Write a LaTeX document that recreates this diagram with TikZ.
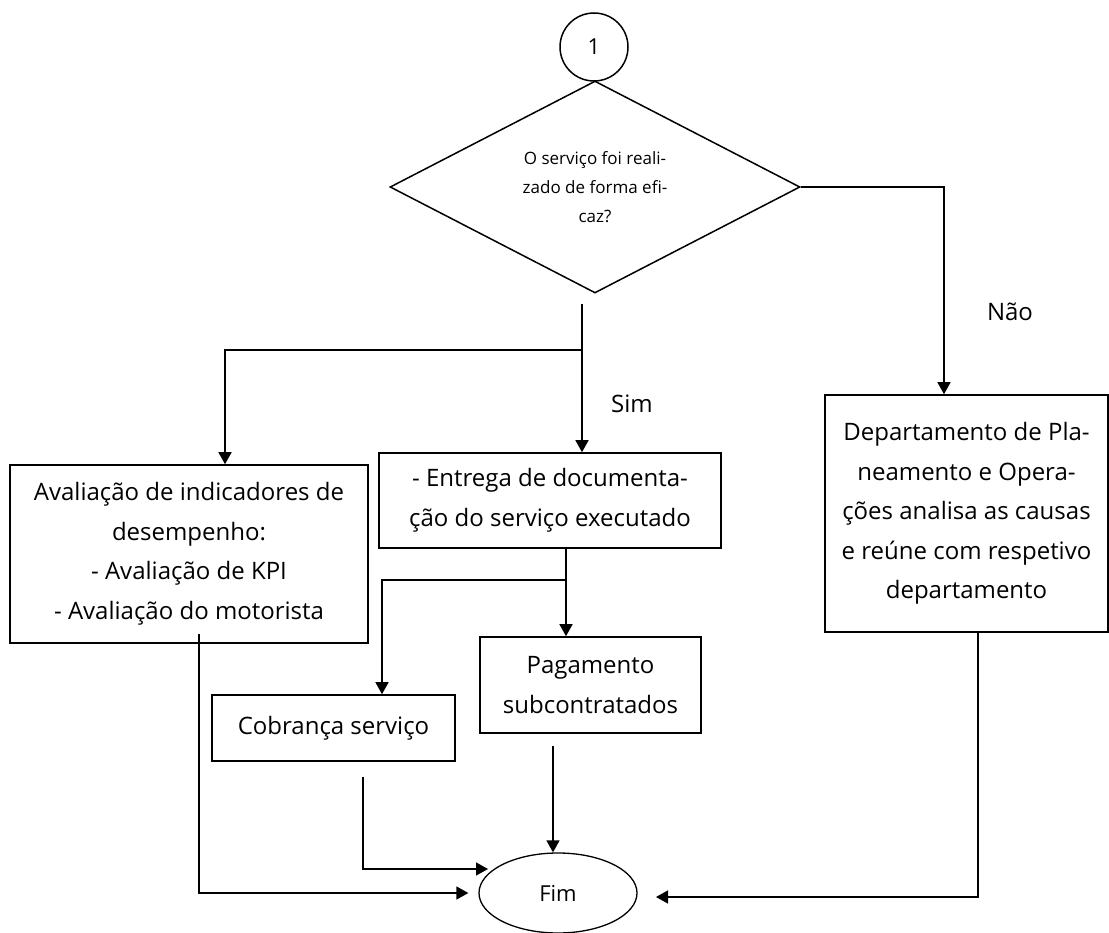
\documentclass[tikz,border=0pt]{standalone}
\usepackage{fontspec}
\setmainfont{Open Sans}
\usetikzlibrary{shapes.geometric,arrows.meta}
\begin{document}
\begin{tikzpicture}
[x=1pt,y=-1pt,
caixa/.style={draw,line width=1.6pt,align=center,inner sep=0pt,
              font=\fontsize{24}{39.5}\selectfont},
seta/.style={line width=1.5pt,-{Triangle[length=12pt,width=13pt]}},
rotulo/.style={font=\fontsize{24}{28}\selectfont}]
\useasboundingbox (0,0) rectangle (1109,933);
\node[draw,circle,line width=1.5pt,minimum size=68pt,inner sep=0pt,
      font=\fontsize{22}{26}\selectfont] (um) at (594,47) {1};
\node[draw,diamond,line width=1.5pt,minimum width=410pt,minimum height=212pt,
      shape aspect=2,inner sep=0pt,align=center,
      font=\fontsize{17}{29}\selectfont] (decisao) at (595,187)
  {O serviço foi reali-\\zado de forma efi-\\caz?};
\node[caixa,minimum width=358pt,minimum height=178pt] (avaliacao) at (189,554)
  {Avaliação de indicadores de\\desempenho:\\- Avaliação de KPI\\- Avaliação do motorista};
\node[caixa,minimum width=342pt,minimum height=95pt] (entrega) at (550,500.5)
  {- Entrega de documenta-\\ção do serviço executado};
\node[caixa,minimum width=283pt,minimum height=237pt] (departamento) at (966.5,513.5)
  {Departamento de Pla-\\neamento e Opera-\\ções analisa as causas\\e reúne com respetivo\\departamento};
\node[caixa,minimum width=221pt,minimum height=96pt] (pagamento) at (590.5,685)
  {Pagamento\\subcontratados};
\node[caixa,minimum width=243pt,minimum height=66pt] (cobranca) at (333.5,728)
  {Cobrança serviço};
\node[draw,ellipse,line width=1.3pt,minimum width=158pt,minimum height=80pt,
      inner sep=0pt,font=\fontsize{22}{26}\selectfont] (fim) at (558,893) {Fim};
\node[rotulo] (lsim) at (632,404) {Sim};
\node[rotulo] (lnao) at (1010,312) {Não};
\coordinate (sim) at (582,304);
\coordinate (ramo) at (582,350);
\coordinate (ramo2) at (566,580);
\draw[seta] (decisao.east) -| ([xshift=-22.5pt]departamento.north);
\draw[seta] (sim) -- (sim |- entrega.north);
\draw[seta] (ramo) -| ([xshift=36pt]avaliacao.north);
\draw[seta] ([xshift=16pt]entrega.south) -- ([xshift=16pt]entrega.south |- pagamento.north);
\draw[seta] (ramo2) -| ([xshift=48.5pt]cobranca.north);
\draw[seta] ([xshift=10pt,yshift=10pt]avaliacao.south) |- ([xshift=-10pt]fim.west);
\draw[seta] ([xshift=29.5pt,yshift=-15pt]cobranca.south) |- ([shift={(-70,-24)}]fim.center);
\draw[seta] ([xshift=-37.5pt,yshift=-12pt]pagamento.south)
  -- ([xshift=-37.5pt]pagamento.south |- fim.north);
\draw[seta] ([xshift=11.5pt]departamento.south) |- ([shift={(98,4)}]fim.center);
\end{tikzpicture}
\end{document}
